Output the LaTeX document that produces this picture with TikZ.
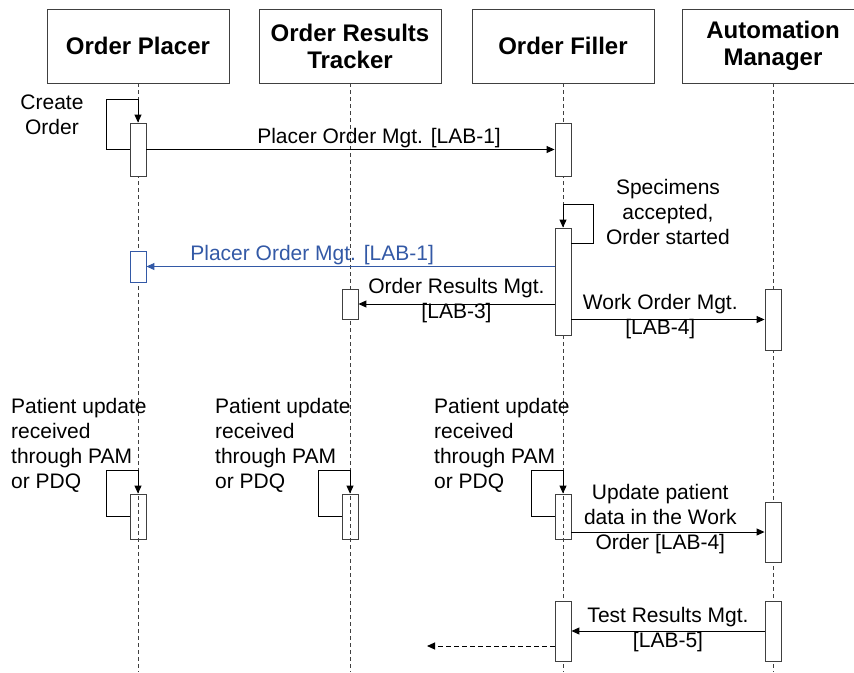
\documentclass[tikz,border=0pt]{standalone}
\usepackage{fontspec}
\setmainfont{Liberation Sans}
\usetikzlibrary{arrows.meta,positioning}
\definecolor{msgblue}{HTML}{3359A6}
\definecolor{boxgray}{HTML}{404040}

\begin{document}
\begin{tikzpicture}[
        x=1pt, y=-1pt,
        actor/.style={
            rectangle,
            draw=boxgray,
            line width=0.9pt,
            align=center,
            minimum width=182pt,
            minimum height=74pt,
            font=\fontsize{24}{27}\selectfont\bfseries
        },
        actbox/.style={
            rectangle,
            draw=boxgray,
            fill=white,
            line width=0.9pt,
            inner sep=0pt,
            minimum width=16pt
        },
        openbox/.style={
            actbox,
            fill=none
        },
        lifeline/.style={
            draw=boxgray,
            line width=0.8pt,
            dash pattern=on 4pt off 3pt
        },
        msg/.style={
            -{Triangle[length=8pt,width=7pt]},
            line width=1pt
        },
        reply/.style={
            msg,
            dash pattern=on 5pt off 3pt
        },
        note/.style={
            align=center,
            inner sep=1pt,
            font=\fontsize{21}{25}\selectfont
        }
    ]
        \useasboundingbox (0,0) rectangle (854,672);

        % Participants
        \node[actor] (placer) at (138,46) {Order Placer};
        \node[actor] (tracker) at (350,46) {Order Results\\Tracker};
        \node[actor] (filler) at (563,46) {Order Filler};
        \node[actor] (automation) at (773,46) {Automation\\Manager};

        \foreach \n in {placer,tracker,filler,automation}
            \draw[lifeline] (\n.south) -- (\n.south |- 0,672);

        % Activations
        \node[actbox, minimum height=53pt] (placer1) at (138,149.5) {};
        \node[actbox, minimum height=53pt] (filler1) at (563,149.5) {};
        \node[actbox, minimum height=107pt] (filler2) at (563,281.5) {};
        \node[actbox, draw=msgblue, minimum height=31pt] (placerb) at (138,266.5) {};
        \node[actbox, minimum height=30pt] (tracker1) at (350,304) {};
        \node[actbox, minimum height=61pt] (automation1) at (773,319.5) {};
        \node[openbox, minimum height=45pt] (placer2) at (138,516.5) {};
        \node[openbox, minimum height=45pt] (tracker2) at (350,516.5) {};
        \node[openbox, minimum height=45pt] (filler3) at (563,516.5) {};
        \node[actbox, minimum height=60pt] (automation2) at (773,532) {};
        \node[actbox, minimum height=60pt] (filler4) at (563,631) {};
        \node[actbox, minimum height=60pt] (automation3) at (773,631) {};

        % Order placement
        \node[note] (create) at (52,115) {Create\\Order};
        \draw[msg] (placer1.west) -- ++(-23,0) -- ++(0,-50.5) -| (placer1.north);
        \draw[msg] (placer1.east) -- node[note, pos=0.57, above] {Placer Order Mgt. [LAB-1]} (filler1.west);

        % Order started
        \node[note] (accepted) at (668,212) {Specimens\\accepted,\\Order started};
        \draw[msg] ([yshift=-16pt]filler2.north east) -- ++(22,0) -- ++(0,-39) -| (filler2.north);
        \draw[msg, msgblue] (placerb.east -| filler2.west) -- node[note, pos=0.594, above, text=msgblue] {Placer Order Mgt. [LAB-1]} (placerb.east);
        \draw[msg] (tracker1.east -| filler2.west) -- node[note, yshift=3pt] {Order Results Mgt.\\{}[LAB-3]} (tracker1.east);
        \draw[msg] (automation1.west -| filler2.east) -- node[note, pos=0.46, yshift=3pt] {Work Order Mgt.\\{}[LAB-4]} (automation1.west);

        % Patient updates
        \node[note, align=left, anchor=west] (updplacer) at (10,445) {Patient update\\received\\through PAM\\or PDQ};
        \node[note, align=left, anchor=west] (updtracker) at (214,445) {Patient update\\received\\through PAM\\or PDQ};
        \node[note, align=left, anchor=west] (updfiller) at (433,445) {Patient update\\received\\through PAM\\or PDQ};
        \foreach \n in {placer2,tracker2,filler3}
            \draw[msg] (\n.west) -- ++(-23,0) -- ++(0,-46.5) -| (\n.north);
        \draw[msg] (automation2.west -| filler3.east) -- node[note, pos=0.46, yshift=13pt] {Update patient\\data in the Work\\Order [LAB-4]} (automation2.west);

        % Results
        \draw[msg] (automation3.west) -- node[note, yshift=1pt] {Test Results Mgt.\\{}[LAB-5]} (filler4.east);
        \coordinate (ext) at (427,646);
        \draw[reply] (filler4.west |- ext) -- (ext);
    \end{tikzpicture}
\end{document}
